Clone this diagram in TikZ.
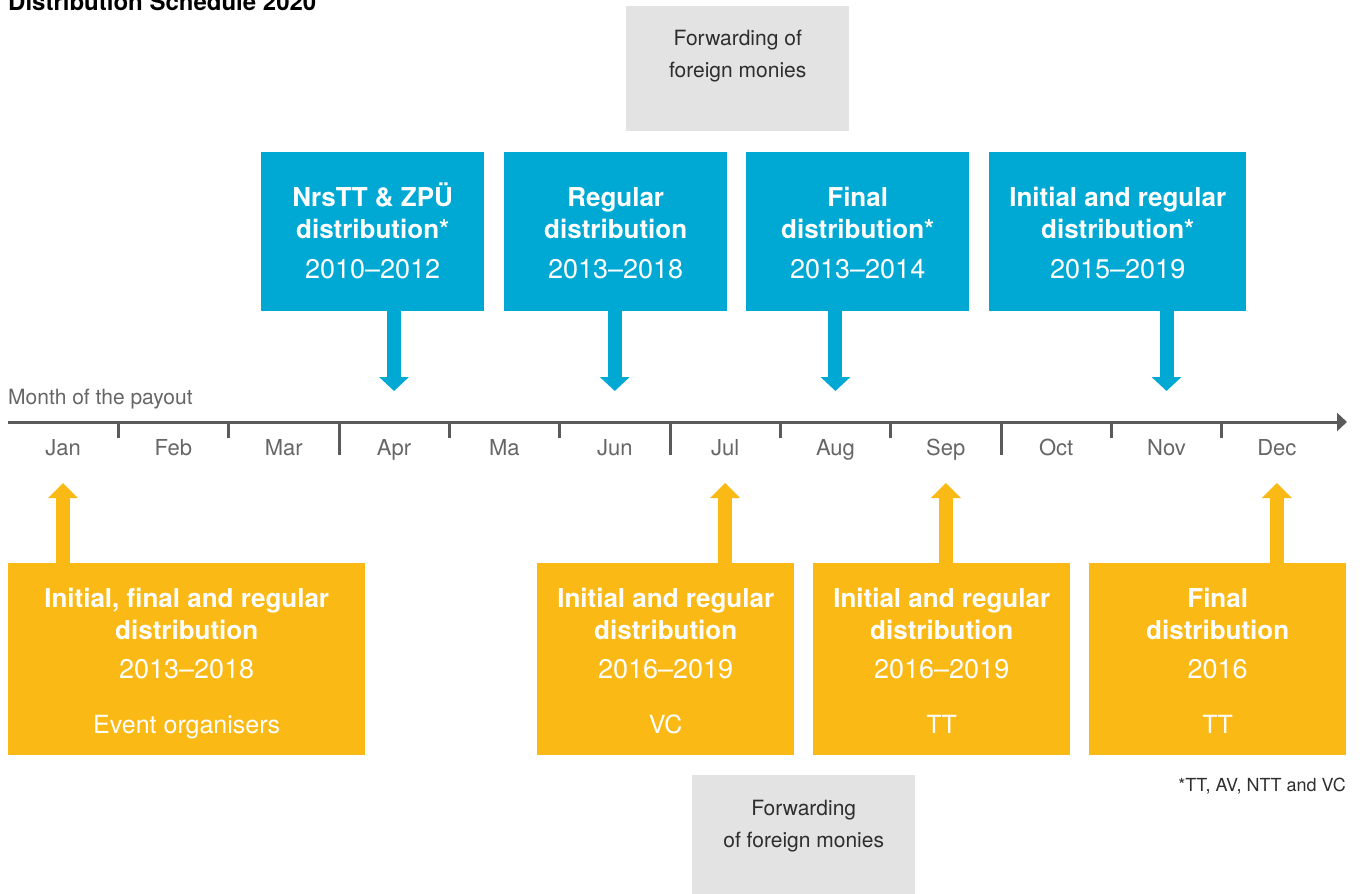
\documentclass[tikz,border=0pt]{standalone}
\usepackage{fontspec}
\setmainfont{TeX Gyre Heros}
\usetikzlibrary{positioning,arrows.meta}

\definecolor{schedblue}{HTML}{00A9D4}
\definecolor{schedyellow}{HTML}{FBB915}
\definecolor{schedgray}{HTML}{E3E3E3}
\definecolor{axisgray}{HTML}{5A5A5A}
\definecolor{labelgray}{HTML}{666666}
\definecolor{textgray}{HTML}{2E2E2E}

\tikzset{
  bluebox/.style={rectangle, fill=schedblue, anchor=north west, inner sep=0pt, minimum height=159pt},
  yellowbox/.style={rectangle, fill=schedyellow, anchor=north west, inner sep=0pt, minimum height=192pt},
  graybox/.style={rectangle, fill=schedgray, anchor=north west, inner sep=0pt},
  boxtitle/.style={anchor=base, inner sep=0pt, align=center, text=white, font=\fontsize{26}{32}\selectfont\bfseries},
  boxyear/.style={anchor=base, inner sep=0pt, text=white, font=\fontsize{27}{32}\selectfont},
  boxwho/.style={anchor=base, inner sep=0pt, text=white, font=\fontsize{25}{30}\selectfont},
  graytext/.style={anchor=base, inner sep=0pt, align=center, text=textgray, font=\fontsize{21}{32}\selectfont},
  month/.style={anchor=base, inner sep=0pt, text=labelgray, font=\fontsize{22}{26}\selectfont},
  axis/.style={draw=axisgray, line width=3pt, -{Triangle[width=18pt,length=10pt]}},
  tick/.style={draw=axisgray, line width=3pt},
  bluearrow/.style={draw=schedblue, line width=14pt, -{Triangle[width=29pt,length=14pt]}},
  yellowarrow/.style={draw=schedyellow, line width=14pt, -{Triangle[width=29pt,length=15pt]}}
}

\begin{document}
\begin{tikzpicture}[x=1pt, y=-1pt]
        \useasboundingbox (0,0) rectangle (1363,894);

        \node[anchor=base west, inner sep=0pt, font=\fontsize{24}{28}\selectfont\bfseries] (title) at (8,10) {Distribution Schedule 2020};

        % gray boxes (base = last line)
        \node[graybox, minimum width=223pt, minimum height=125pt] (fwdtop) at (626,6) {};
        \node[graytext] (fwdtoptext) at ([yshift=-71pt]fwdtop.north) {Forwarding of\\foreign monies};
        \node[graybox, minimum width=223pt, minimum height=125pt] (fwdbot) at (692,775) {};
        \node[graytext] (fwdbottext) at ([yshift=-72pt]fwdbot.north) {Forwarding\\of foreign monies};

        % blue boxes
        \node[bluebox, minimum width=223pt] (nrs) at (261,152) {};
        \node[bluebox, minimum width=223pt] (regular) at (504,152) {};
        \node[bluebox, minimum width=223pt] (final) at (746,152) {};
        \node[bluebox, minimum width=257pt] (initreg) at (989,152) {};

        \node[boxtitle] (nrstitle) at ([yshift=-86pt]nrs.north) {NrsTT \& ZPÜ\\distribution*};
        \node[boxyear] (nrsyear) at ([yshift=-126pt]nrs.north) {2010–2012};
        \node[boxtitle] (regulartitle) at ([yshift=-86pt]regular.north) {Regular\\distribution};
        \node[boxyear] (regularyear) at ([yshift=-126pt]regular.north) {2013–2018};
        \node[boxtitle] (finaltitle) at ([yshift=-86pt]final.north) {Final\\distribution*};
        \node[boxyear] (finalyear) at ([yshift=-126pt]final.north) {2013–2014};
        \node[boxtitle] (initregtitle) at ([yshift=-86pt]initreg.north) {Initial and regular\\distribution*};
        \node[boxyear] (initregyear) at ([yshift=-126pt]initreg.north) {2015–2019};

        % yellow boxes
        \node[yellowbox, minimum width=357pt] (events) at (8,563) {};
        \node[yellowbox, minimum width=257pt] (vc) at (537,563) {};
        \node[yellowbox, minimum width=257pt] (tta) at (813,563) {};
        \node[yellowbox, minimum width=257pt] (ttb) at (1089,563) {};

        \node[boxtitle] (eventstitle) at ([yshift=-76pt]events.north) {Initial, final and regular\\distribution};
        \node[boxyear] (eventsyear) at ([yshift=-115pt]events.north) {2013–2018};
        \node[boxwho] (eventswho) at ([yshift=-170pt]events.north) {Event organisers};
        \node[boxtitle] (vctitle) at ([yshift=-76pt]vc.north) {Initial and regular\\distribution};
        \node[boxyear] (vcyear) at ([yshift=-115pt]vc.north) {2016–2019};
        \node[boxwho] (vcwho) at ([yshift=-170pt]vc.north) {VC};
        \node[boxtitle] (ttatitle) at ([yshift=-76pt]tta.north) {Initial and regular\\distribution};
        \node[boxyear] (ttayear) at ([yshift=-115pt]tta.north) {2016–2019};
        \node[boxwho] (ttawho) at ([yshift=-170pt]tta.north) {TT};
        \node[boxtitle] (ttbtitle) at ([yshift=-76pt]ttb.north) {Final\\distribution};
        \node[boxyear] (ttbyear) at ([yshift=-115pt]ttb.north) {2016};
        \node[boxwho] (ttbwho) at ([yshift=-170pt]ttb.north) {TT};

        % time axis
        \node[anchor=base west, inner sep=0pt, text=labelgray, font=\fontsize{21}{26}\selectfont] (payout) at (8,404) {Month of the payout};
        \coordinate (axisstart) at (8,422);
        \coordinate (axisend) at (1347,422);
        \draw[axis] (axisstart) -- (axisend);
        \foreach \i in {1,...,11} {
          \pgfmathsetmacro{\ticklen}{mod(\i,3)==0 ? 33 : 16}
          \draw[tick] ({8+110.35*\i},422) -- ++(0,\ticklen);
        }
        \foreach \m/\n [count=\i from 0] in {Jan/jan, Feb/feb, Mar/mar, Apr/apr, Ma/may, Jun/jun, Jul/jul, Aug/aug, Sep/sep, Oct/oct, Nov/nov, Dec/dec}
          \node[month] (\n) at ({63+110.35*\i},455) {\m};

        % arrows
        \coordinate (downtip) at (0,391);
        \coordinate (uptip) at (0,483);
        \draw[bluearrow] (nrs.south -| apr) -- (downtip -| apr);
        \draw[bluearrow] (regular.south -| jun) -- (downtip -| jun);
        \draw[bluearrow] (final.south -| aug) -- (downtip -| aug);
        \draw[bluearrow] (initreg.south -| nov) -- (downtip -| nov);
        \draw[yellowarrow] (events.north -| jan) -- (uptip -| jan);
        \draw[yellowarrow] (vc.north -| jul) -- (uptip -| jul);
        \draw[yellowarrow] (tta.north -| sep) -- (uptip -| sep);
        \draw[yellowarrow] (ttb.north -| dec) -- (uptip -| dec);

        \node[anchor=base east, inner sep=0pt, text=textgray, font=\fontsize{18}{22}\selectfont] (footnote) at (1346,791) {*TT, AV, NTT and VC};
      \end{tikzpicture}
\end{document}
